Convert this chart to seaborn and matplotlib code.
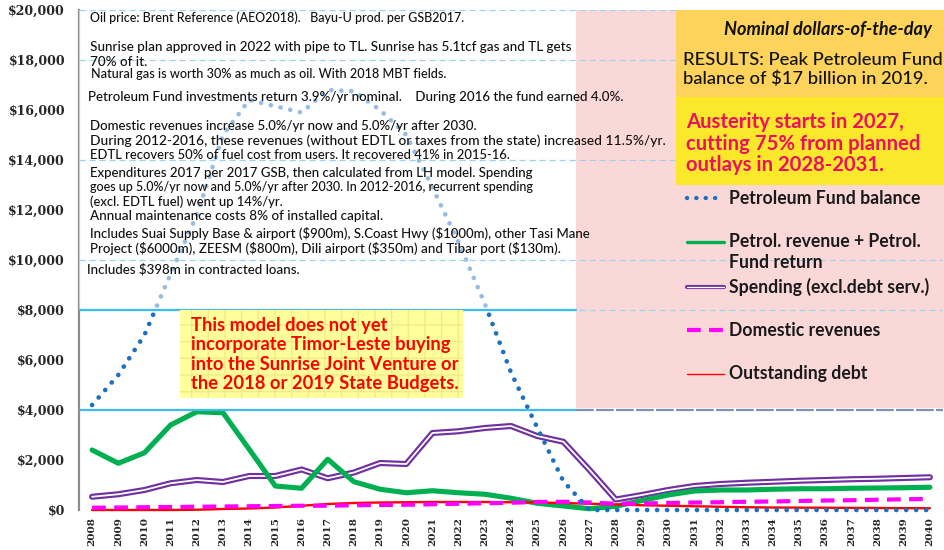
import matplotlib
matplotlib.use("Agg")
import matplotlib.pyplot as plt
import matplotlib.patheffects as pe
from matplotlib.lines import Line2D
from matplotlib.patches import Rectangle
import pandas as pd
import seaborn as sns

# ---- data (US$ million, nominal) ----
years = list(range(2008, 2041))
fund_balance = [4200, 5400, 7000, 9450, 11800, 15000, 16400, 16150, 15900, 16800,
                16750, 16000, 15000, 12900, 10700, 8250, 5500, 3300, 1150, 0,
                0, 0, 0, 0, 0, 0, 0, 0, 0, 0, 0, 0, 0]
petrol_revenue = [2400, 1870, 2290, 3400, 3930, 3890, 2430, 960, 870, 2030,
                  1130, 830, 690, 770, 690, 630, 470, 270, 160, 50,
                  150, 380, 600, 760, 800, 800, 830, 850, 850, 870, 880, 890, 910]
spending = [530, 630, 800, 1070, 1200, 1120, 1360, 1360, 1620, 1270,
            1500, 1880, 1840, 3080, 3150, 3280, 3360, 2960, 2730, 1600,
            420, 600, 800, 960, 1040, 1090, 1130, 1170, 1200, 1230, 1250, 1280, 1310]
domestic_revenue = [90, 100, 110, 120, 130, 140, 150, 160, 170, 170,
                    190, 200, 210, 230, 250, 270, 290, 320, 330, 300,
                    250, 260, 280, 300, 310, 330, 340, 360, 380, 390, 410, 430, 440]
outstanding_debt = [0, 0, 0, 0, 10, 40, 60, 100, 170, 240,
                    280, 300, 310, 320, 320, 320, 310, 300, 280, 250,
                    220, 190, 170, 150, 130, 110, 100, 95, 90, 85, 80, 75, 70]

series_labels = ["Petroleum Fund balance", "Petrol. revenue + Petrol.\nFund return",
                 "Spending (excl.debt serv.)", "Domestic revenues", "Outstanding debt"]
y_ticks = list(range(0, 20001, 2000))
austerity_start = 2026.5

df = pd.DataFrame({"year": years, "fund": fund_balance, "petrol": petrol_revenue,
                   "spend": spending, "domestic": domestic_revenue, "debt": outstanding_debt})

sns.set_style("white")
plt.rcParams["font.family"] = ["Lato", "DejaVu Sans"]

W, H = 944, 550
fig = plt.figure(figsize=(W / 100, H / 100), dpi=100)
ax = fig.add_axes([79 / W, 40 / H, (943 - 79) / W, 500 / H])
ax.set_xlim(2007.5, 2040.5)
ax.set_ylim(0, 20000)


def fx(x):
    return x / W


def fy(y):
    return 1 - y / H


FT = fig.transFigure

# colours
BLUE = "#1f6fc0"
GREEN = "#00b050"
PURPLE = "#7030a0"
MAGENTA = "#ff00ff"
RED = "#ff0000"

# austerity period shading
ax.add_patch(Rectangle((austerity_start, 4080), 2040.6 - austerity_start, 20000 - 4080,
                       facecolor="#fbd8d8", edgecolor="none", zorder=0.5, clip_on=False))

# series
sns.lineplot(data=df, x="year", y="spend", ax=ax, color="white", linewidth=1.3,
             path_effects=[pe.Stroke(linewidth=4.4, foreground=PURPLE), pe.Normal()],
             zorder=2, clip_on=False, label=series_labels[2], legend=False)
sns.lineplot(data=df, x="year", y="petrol", ax=ax, color=GREEN, linewidth=3.7,
             zorder=2.2, clip_on=False, label=series_labels[1], legend=False)
sns.lineplot(data=df, x="year", y="debt", ax=ax, color=RED, linewidth=1.7,
             zorder=2.3, clip_on=False, label=series_labels[4], legend=False)
sns.lineplot(data=df, x="year", y="domestic", ax=ax, color=MAGENTA, linewidth=3.0,
             linestyle=(0, (3.3, 2.0)), zorder=2.4, clip_on=False,
             label=series_labels[3], legend=False)
sns.lineplot(data=df, x="year", y="fund", ax=ax, color=BLUE, linewidth=3.4,
             linestyle=(0, (0.01, 2.1)), dash_capstyle="round", zorder=2.5,
             clip_on=False, label=series_labels[0], legend=False)

# translucent notes panel
ax.add_patch(Rectangle((2007.5, 8000), austerity_start - 2007.5, 12000,
                       facecolor="white", alpha=0.55, edgecolor="none", zorder=4))

# reference lines
for v in [20000, 18000, 14000, 10000, 8000]:
    ax.axhline(v, color="#9dd3ee", linewidth=0.9, linestyle=(0, (5, 3)), zorder=5)
split = (austerity_start - 2007.5) / 33
ax.axhline(8000, xmin=0, xmax=split, color="#3fbcee", linewidth=1.6, zorder=5.1)
ax.axhline(4000, xmin=0, xmax=split, color="#3fbcee", linewidth=1.6, zorder=5.1)
ax.axhline(4000, xmin=split, xmax=1, color="#8090b0", linewidth=1.6,
           linestyle=(0, (8, 1)), zorder=5.1)

# axes styling
ax.set_yticks(y_ticks)
ax.set_yticklabels([f"${v:,}" for v in y_ticks], fontsize=9, fontweight="bold",
                   family="DejaVu Serif")
ax.set_xticks(years)
ax.set_xticklabels([str(y) for y in years], rotation=90, fontsize=7.5,
                   fontweight="bold", family="DejaVu Serif")
ax.tick_params(axis="y", length=0, pad=10)
ax.tick_params(axis="x", length=0, pad=5)
ax.set_xlabel("")
ax.set_ylabel("")
for s in ["top", "right", "bottom"]:
    ax.spines[s].set_visible(False)
ax.spines["left"].set_color("#8c8c8c")
ax.spines["left"].set_linewidth(1.6)


def note(x, y, t, **kw):
    ax.text(fx(x), fy(y), t, transform=FT, ha="left", va="center", zorder=7,
            parse_math=False, **kw)


# assumptions text
notes = [
    (90, 18, "Oil price: Brent Reference (AEO2018).   Bayu-U prod. per GSB2017.", 9.0),
    (90, 47, "Sunrise plan approved in 2022 with pipe to TL. Sunrise has 5.1tcf gas and TL gets", 9.7),
    (90, 62, "70% of it.", 9.7),
    (91, 74, "Natural gas is worth 30% as much as oil. With 2018 MBT fields.", 9.1),
    (88, 97, "Petroleum Fund investments return 3.9%/yr nominal.    During 2016 the fund earned 4.0%.", 9.6),
    (90, 126, "Domestic revenues increase 5.0%/yr now and 5.0%/yr after 2030.", 9.5),
    (90, 141, "During 2012-2016, these revenues (without EDTL or taxes from the state) increased 11.5%/yr.", 9.9),
    (90, 155, "EDTL recovers 50% of fuel cost from users. It recovered 41% in 2015-16.", 9.4),
    (90, 173, "Expenditures 2017 per 2017 GSB, then calculated from LH model. Spending", 9.5),
    (90, 187, "goes up 5.0%/yr now and 5.0%/yr after 2030. In 2012-2016, recurrent spending", 9.0),
    (90, 202, "(excl. EDTL fuel) went up 14%/yr.", 9.35),
    (90, 216, "Annual maintenance costs 8% of installed capital.", 9.7),
    (90, 233, "Includes Suai Supply Base & airport ($900m), S.Coast Hwy ($1000m), other Tasi Mane", 9.5),
    (90, 248, "Project ($6000m), ZEESM ($800m), Dili airport ($350m) and Tibar port ($130m).", 9.6),
    (87, 269, "Includes $398m in contracted loans.", 9.6),
]
for x, y, t, fs in notes:
    note(x, y, t, fontsize=fs, color="#111111", fontweight="medium")

# caveat box
ax.add_patch(Rectangle((fx(180), fy(398)), fx(463) - fx(180), fy(310) - fy(398),
                       transform=FT, facecolor="#ffff9c", edgecolor="#f1ea86",
                       linewidth=0, hatch="+", zorder=6, clip_on=False))
caveat = ["This model does not yet", "incorporate Timor-Leste buying",
          "into the Sunrise Joint Venture or", "the 2018 or 2019 State Budgets."]
for i, t in enumerate(caveat):
    note(191, 325 + 19.5 * i, t, fontsize=13.2, fontweight="bold", color="#ff0000")

# results box
ax.add_patch(Rectangle((fx(676), fy(97)), fx(944) - fx(676), fy(10) - fy(97),
                       transform=FT, facecolor="#fdd35b", edgecolor="none",
                       zorder=6, clip_on=False))
ax.add_patch(Rectangle((fx(676), fy(185)), fx(944) - fx(676), fy(97) - fy(185),
                       transform=FT, facecolor="#fce82b", edgecolor="none",
                       zorder=6, clip_on=False))
ax.text(fx(932), fy(29), "Nominal dollars-of-the-day", transform=FT, fontsize=13.1,
        fontweight="bold", fontstyle="italic", color="#111111", ha="right",
        va="center", zorder=7)
note(683, 60, "RESULTS: Peak Petroleum Fund", fontsize=13.2, fontweight="medium",
     color="#111111")
note(683, 79, "balance of $17 billion in 2019.", fontsize=13.2, fontweight="medium",
     color="#111111")
austerity = ["Austerity starts in 2027,", "cutting 75% from planned",
             "outlays in 2028-2031."]
for i, t in enumerate(austerity):
    note(686, 122 + 21.5 * i, t, fontsize=14.6, fontweight="bold", color="#ee1060")

# legend
leg_rows = [
    (198, dict(color=BLUE, linewidth=3.2, linestyle=(0, (0.01, 2.1)), dash_capstyle="round"),
     [(198, series_labels[0])]),
    (242, dict(color=GREEN, linewidth=2.4),
     [(242, "Petrol. revenue + Petrol."), (262, "Fund return")]),
    (287, dict(color="white", linewidth=0.9,
               path_effects=[pe.Stroke(linewidth=3.0, foreground=PURPLE), pe.Normal()]),
     [(287, series_labels[2])]),
    (330, dict(color=MAGENTA, linewidth=3.0, linestyle=(0, (3.3, 2.0))),
     [(330, series_labels[3])]),
    (374, dict(color=RED, linewidth=1.0), [(374, series_labels[4])]),
]
for y, style, texts in leg_rows:
    ln = Line2D([fx(687), fx(724)], [fy(y), fy(y)], transform=FT, zorder=7, **style)
    ln.set_clip_on(False)
    ax.add_line(ln)
    for ty, t in texts:
        note(729, ty, t, fontsize=12.7, fontweight="bold", color="#1a1a1a")

fig.savefig("out.png", dpi=100)
